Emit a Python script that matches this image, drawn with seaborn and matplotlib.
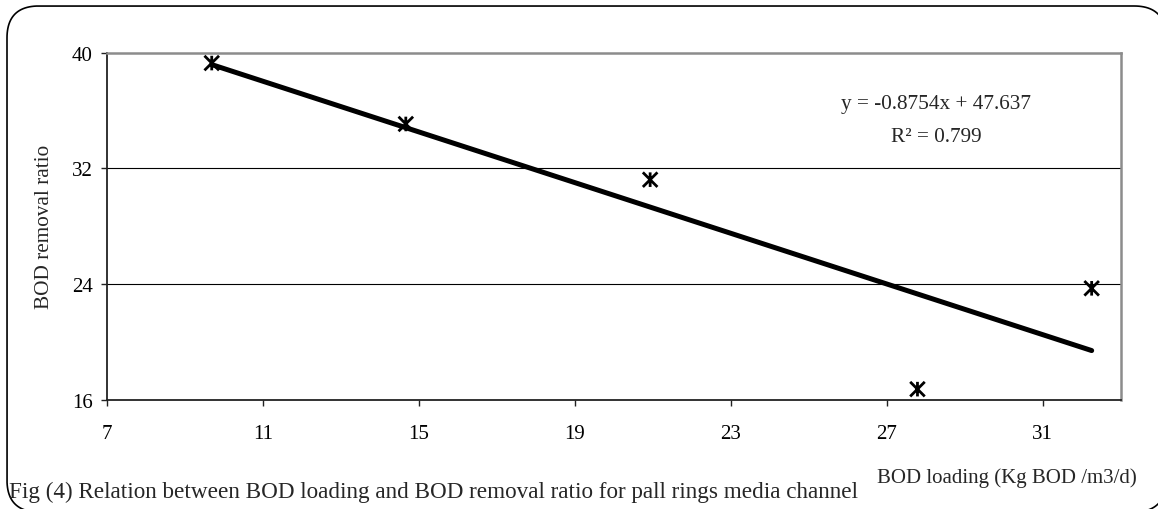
import matplotlib
matplotlib.use("Agg")
import matplotlib.pyplot as plt
import matplotlib.patches as mpatches
import matplotlib.transforms as mtransforms
from matplotlib.lines import Line2D
from matplotlib.path import Path
import numpy as np
import pandas as pd
import seaborn as sns

# ---- data ----
bod_loading = [9.68, 14.66, 20.93, 27.79, 32.26]
bod_removal = [39.27, 35.06, 31.21, 16.73, 23.70]
trend_slope = -0.8754
trend_intercept = 47.637
x_ticks = [7, 11, 15, 19, 23, 27, 31]
y_ticks = [16, 24, 32, 40]
eq_text = "y = -0.8754x + 47.637"
r2_text = "R\u00b2 = 0.799"
x_label = "BOD loading (Kg BOD /m3/d)"
y_label = "BOD removal ratio"
caption = "Fig (4) Relation between BOD loading and BOD removal ratio for pall rings media channel"

sns.set_theme(style="white")
plt.rcParams["font.family"] = ["Liberation Serif", "DejaVu Serif"]

W, H = 1158, 510
fig = plt.figure(figsize=(W / 100, H / 100), dpi=100)
ax = fig.add_axes([107.3 / W, 1 - 400.7 / H, (1120.5 - 107.3) / W, (400.7 - 53.5) / H])

df = pd.DataFrame({"x": bod_loading, "y": bod_removal})
xs = np.array([min(bod_loading), max(bod_loading)])
trend = pd.DataFrame({"x": xs, "y": trend_slope * xs + trend_intercept})

sns.lineplot(data=trend, x="x", y="y", ax=ax, color="black", linewidth=3.6,
             solid_capstyle="round", zorder=3)

star = Path([(0, -1), (0, 1), (-1, -1), (1, 1), (-1, 1), (1, -1)],
            [Path.MOVETO, Path.LINETO, Path.MOVETO, Path.LINETO, Path.MOVETO, Path.LINETO])
sns.scatterplot(data=df, x="x", y="y", ax=ax, marker=star, s=110,
                facecolor="none", edgecolor="black", linewidth=2.0, zorder=4)

ax.set_xlim(7, 33)
ax.set_ylim(16, 40)
ax.set_xticks(x_ticks)
ax.set_yticks(y_ticks)
ax.set_xticklabels([str(t) for t in x_ticks])
ax.set_yticklabels([str(t) for t in y_ticks])

for yv in [24, 32]:
    ax.axhline(yv, color="black", linewidth=0.8, zorder=1)

for side in ["left", "bottom"]:
    ax.spines[side].set_color("#222222")
    ax.spines[side].set_linewidth(1.3)
for side in ["top", "right"]:
    ax.spines[side].set_color("#8c8c8c")
    ax.spines[side].set_linewidth(1.8)

ax.tick_params(axis="both", direction="out", length=4.5, width=1.0, color="#222222",
               labelsize=15, labelcolor="black")
ax.tick_params(axis="x", pad=13.0, bottom=True)
ax.tick_params(axis="y", pad=6.0, left=True)

ax.set_xlabel(x_label, fontsize=15, ha="right", va="center")
ax.xaxis.set_label_coords(1.0163, -0.2226)
ax.set_ylabel(y_label, fontsize=15.3, ha="center", va="center")
ax.yaxis.set_label_coords(-0.0615, 0.5)

ax.text(0.8179, 0.8517, eq_text, transform=ax.transAxes, ha="center", va="center", fontsize=15.3)
ax.text(0.8179, 0.7595, r2_text, transform=ax.transAxes, ha="center", va="center", fontsize=15.3)

fig.text(9 / W, 1 - 492 / H, caption, ha="left", va="center", fontsize=16.7)

# rounded border of the figure frame (display pixels), drawn as an open polyline
box = mpatches.FancyBboxPatch((7, H - 513), 1166 - 7, 513 - 7,
                              boxstyle="round,pad=0,rounding_size=32")
pts = []
for bez, code in box.get_path().iter_bezier():
    pts.append(bez(np.linspace(0, 1, 25)))
pts = np.vstack(pts)
fig.add_artist(Line2D(pts[:, 0], pts[:, 1], transform=mtransforms.IdentityTransform(),
                      color="black", linewidth=1.2))

fig.savefig("out.png", dpi=100)
